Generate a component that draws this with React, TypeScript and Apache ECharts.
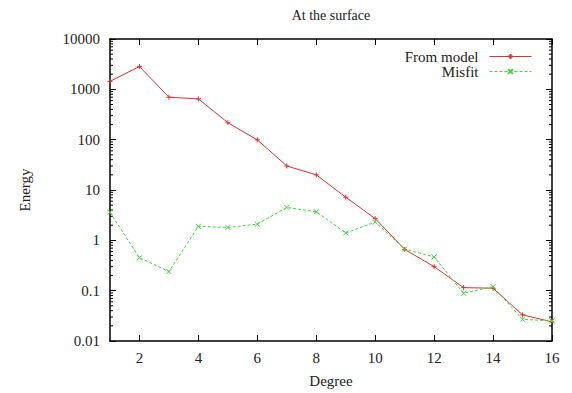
import React, { useEffect, useRef } from "react";
import * as echarts from "echarts";

const degrees = [1, 2, 3, 4, 5, 6, 7, 8, 9, 10, 11, 12, 13, 14, 15, 16];
const fromModel = [1440, 2840, 697, 646, 217, 99, 30, 20, 7.2, 2.7, 0.66, 0.3, 0.115, 0.112, 0.033, 0.024];
const misfit = [3.6, 0.45, 0.24, 1.9, 1.8, 2.1, 4.5, 3.7, 1.4, 2.3, 0.67, 0.47, 0.089, 0.12, 0.027, 0.025];
const xTickValues = [2, 4, 6, 8, 10, 12, 14, 16];
const yTickValues = [0.01, 0.1, 1, 10, 100, 1000, 10000];
const yTickLabels = ["0.01", "0.1", "1", "10", "100", "1000", "10000"];
const minorMultipliers = [2, 3, 4, 5, 6, 7, 8, 9];

const FONT = "Times New Roman, Liberation Serif, serif";
const RED = "#e83030";
const GREEN = "#3ddc3d";

export default function App() {
  const ref = useRef<HTMLDivElement>(null);
  useEffect(() => {
    if (!ref.current) return;
    const chart = echarts.init(ref.current, null, { renderer: "svg" });

    const minorValues: number[] = [];
    for (let i = 0; i < yTickValues.length - 1; i++) {
      for (const m of minorMultipliers) minorValues.push(yTickValues[i] * m);
    }

    const labelFmt = (v: number) => {
      const e = Math.round(Math.log10(v));
      const idx = yTickValues.findIndex((t) => Math.round(Math.log10(t)) === e);
      return idx >= 0 ? yTickLabels[idx] : "";
    };

    const axisLine = { show: true, lineStyle: { color: "#000", width: 1.5 } };
    const tick = { show: true, inside: true, length: 6, lineStyle: { color: "#000", width: 1 } };
    const txt = { fontFamily: FONT, fontSize: 15, color: "#222" };

    const legendBase = {
      right: 40,
      padding: 0,
      align: "right",
      itemWidth: 42,
      itemHeight: 6,
      lineStyle: { width: 1 },
      textStyle: { ...txt, padding: [0, 6, 0, 0] },
    };

    chart.setOption({
      animation: false,
      backgroundColor: "#fff",
      textStyle: { fontFamily: FONT },
      graphic: [
        {
          type: "text",
          x: 331,
          y: 15,
          style: {
            text: "At the surface",
            fontFamily: FONT,
            fontSize: 14,
            fill: "#222",
            textAlign: "center",
            textVerticalAlign: "middle",
          },
        },
      ],
      legend: [
        { ...legendBase, data: ["From model"], top: 49 },
        { ...legendBase, data: ["Misfit"], top: 64 },
      ],
      grid: { left: 110, right: 20, top: 39, bottom: 50, containLabel: false },
      xAxis: [
        {
          type: "value",
          min: 1,
          max: 16,
          name: "Degree",
          nameLocation: "middle",
          nameGap: 32,
          nameTextStyle: txt,
          axisLine,
          axisTick: { ...tick, customValues: xTickValues },
          axisLabel: { ...txt, customValues: xTickValues, margin: 9 },
          splitLine: { show: false },
        },
        {
          type: "value",
          position: "top",
          min: 1,
          max: 16,
          axisLine,
          axisTick: { ...tick, customValues: xTickValues },
          axisLabel: { show: false },
          splitLine: { show: false },
        },
      ],
      yAxis: [
        {
          type: "log",
          logBase: 10,
          min: 0.01,
          max: 10000,
          interval: 1,
          name: "Energy",
          nameLocation: "middle",
          nameRotate: 90,
          nameGap: 78,
          nameTextStyle: txt,
          axisLine,
          axisTick: tick,
          axisLabel: { ...txt, margin: 10, formatter: labelFmt },
          splitLine: { show: false },
        },
        {
          type: "log",
          logBase: 10,
          min: 0.01,
          max: 10000,
          interval: 1,
          position: "right",
          axisLine,
          axisTick: tick,
          axisLabel: { show: false },
          splitLine: { show: false },
        },
      ],
      series: [
        {
          name: "From model",
          type: "line",
          data: degrees.map((d, i) => [d, fromModel[i]]),
          lineStyle: { color: RED, width: 1 },
          itemStyle: { color: RED, borderColor: RED, borderWidth: 1 },
          symbol: "path://M0,5L10,5M5,0L5,10",
          symbolSize: 5,
          showSymbol: true,
          clip: false,
        },
        {
          name: "Misfit",
          type: "line",
          data: degrees.map((d, i) => [d, misfit[i]]),
          lineStyle: { color: GREEN, width: 1, type: [3, 2] },
          itemStyle: { color: GREEN, borderColor: GREEN, borderWidth: 1 },
          symbol: "path://M0,0L10,10M10,0L0,10",
          symbolSize: 5,
          showSymbol: true,
          clip: false,
        },
        {
          name: "minorTicks",
          type: "custom",
          silent: true,
          clip: false,
          data: [[1, 1]],
          renderItem: (_params: any, api: any) => {
            const children: any[] = [];
            for (const v of minorValues) {
              const l = api.coord([1, v]);
              const r = api.coord([16, v]);
              children.push({
                type: "line",
                shape: { x1: l[0], y1: l[1], x2: l[0] + 3, y2: l[1] },
                style: { stroke: "#000", lineWidth: 1 },
              });
              children.push({
                type: "line",
                shape: { x1: r[0], y1: r[1], x2: r[0] - 3, y2: r[1] },
                style: { stroke: "#000", lineWidth: 1 },
              });
            }
            return { type: "group", children };
          },
        },
      ],
    });
    return () => chart.dispose();
  }, []);
  return (
    <div
      ref={ref}
      style={{ position: "fixed", left: 0, top: 0, width: 572, height: 393 }}
    />
  );
}
